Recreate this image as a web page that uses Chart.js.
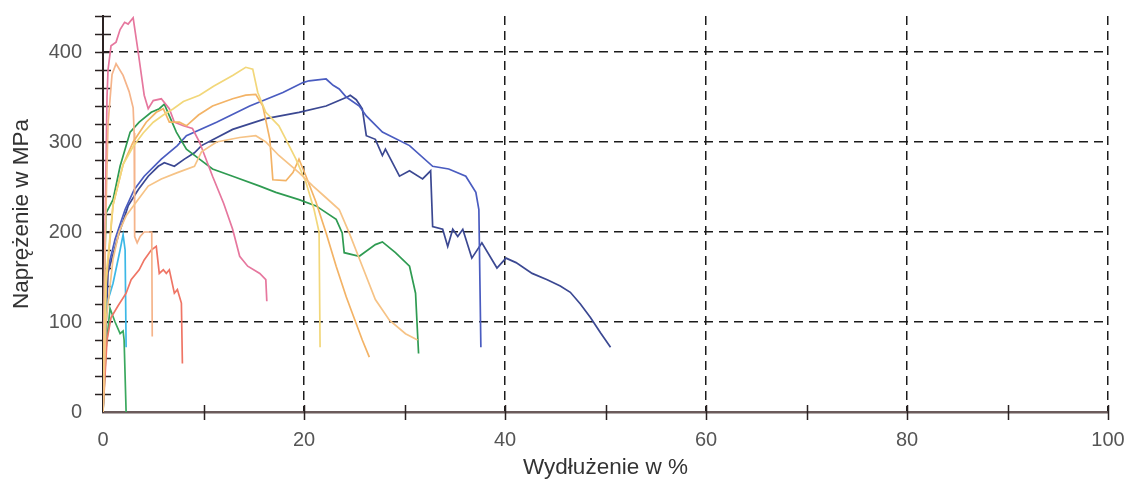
<!DOCTYPE html>
<html><head><meta charset="utf-8">
<script src="https://cdn.jsdelivr.net/npm/chart.js@4.4.1/dist/chart.umd.min.js"></script>
<style>html,body{margin:0;padding:0;background:#fff}#wrap{width:1135px;height:482px}</style>
</head><body><div id="wrap"><canvas id="c" width="1135" height="482"></canvas></div>
<script>
// Tick labels
const xTickLabels = [0, 20, 40, 60, 80, 100];
const yTickLabels = [0, 100, 200, 300, 400];
const xMinorTicks = [10, 20, 30, 40, 50, 60, 70, 80, 90, 100];
const yMinorTicks = [20, 40, 60, 80, 100, 120, 140, 160, 180, 200, 220, 240, 260, 280, 300, 320, 340, 360, 380, 400, 420, 440];

// Series (x = elongation %, y = stress MPa)
const pinkX = [0, 0.2, 0.4, 0.5, 0.8, 1.3, 1.7, 2.15, 2.5, 3.0, 3.5, 4.1, 4.5, 5.0, 5.8, 6.6, 7.1, 8.0, 8.9, 9.6, 10.9, 12.0, 12.9, 13.6, 14.4, 15.6, 16.2, 16.3];
const pinkY = [0, 200, 350, 380, 407, 411, 425, 433, 431, 438, 400, 352, 337, 346, 348, 337, 322, 318, 315, 300, 262, 232, 203, 173, 162, 154, 147, 123];

const peachX = [0, 0.2, 0.5, 0.9, 1.3, 2.0, 2.6, 3.0, 3.1, 3.15, 3.4, 3.7, 4.1, 4.7, 4.85, 4.9];
const peachY = [0, 180, 320, 375, 387, 374, 356, 338, 310, 195, 188, 195, 200, 200, 200, 84];

const yellowX = [0, 0.3, 1, 2, 3, 4, 5, 6, 7, 8, 9.6, 11, 12.9, 14.2, 14.9, 15.4, 16.2, 17.5, 18.2, 19.2, 20.2, 21.0, 21.5, 21.6];
const yellowY = [0, 150, 230, 275, 295, 310, 322, 330, 337, 345, 352, 362, 374, 383, 381, 355, 333, 318, 303, 281, 255, 225, 200, 72];

const orangeAX = [0, 0.3, 1, 2, 3, 4.3, 5.3, 6, 6.6, 7.6, 8.3, 9.5, 10.9, 12.9, 14.2, 15.2, 15.9, 16.6, 16.9, 18.2, 18.9, 19.5, 20.2, 21.2, 22.2, 23.2, 24.2, 24.8, 25.8, 26.5];
const orangeAY = [0, 140, 230, 275, 300, 322, 333, 337, 322, 322, 318, 330, 340, 348, 352, 353, 340, 303, 258, 257, 266, 281, 262, 233, 199, 162, 128, 110, 80, 61];

const orangeBX = [0, 0.3, 1, 1.6, 2.3, 3.5, 4.5, 5.8, 7.4, 9.1, 9.8, 11.3, 13.6, 15.2, 16.2, 17.5, 19.5, 20.9, 22.0, 23.5, 24.5, 25.8, 27.1, 28.5, 30.1, 31.3];
const orangeBY = [0, 100, 170, 200, 218, 236, 251, 259, 266, 273, 289, 300, 305, 307, 300, 285, 266, 251, 240, 225, 199, 162, 125, 102, 87, 80];

const blue1X = [0, 0.3, 1.2, 2.2, 3.1, 4.1, 5.8, 7.4, 8.3, 11.3, 14.6, 17.9, 19.9, 20.5, 22.2, 22.9, 23.5, 24.2, 25.5, 26.2, 27.8, 30.5, 32.8, 34.4, 36.1, 37.1, 37.4, 37.6];
const blue1Y = [0, 151, 192, 225, 247, 262, 281, 296, 307, 322, 340, 355, 366, 368, 370, 363, 359, 350, 340, 329, 311, 296, 273, 270, 262, 244, 225, 72];

const blue2X = [0, 0.5, 1.5, 2.5, 3.5, 4.5, 5.5, 6.1, 7.1, 8.1, 9.1, 9.8, 12.9, 16.2, 19.5, 22.2, 24.3, 24.6, 25.2, 25.8, 26.2, 27.1, 27.8, 28.1, 29.5, 30.5, 31.8, 32.6, 32.8, 33.8, 34.3, 34.8, 35.3, 35.8, 36.7, 37.7, 39.2, 40.1, 41.1, 42.7, 44.2, 45.5, 46.5, 47.5, 48.5, 49.5, 50.5];
const blue2Y = [0, 155, 195, 229, 247, 262, 273, 277, 273, 281, 288, 296, 314, 326, 333, 340, 350, 352, 347, 337, 307, 303, 285, 292, 262, 268, 259, 268, 206, 203, 184, 203, 195, 203, 171, 188, 160, 171, 166, 154, 147, 140, 133, 120, 105, 88, 72];

const greenX = [0, 0.15, 0.3, 1.0, 1.7, 2.7, 3.6, 4.8, 5.6, 6.1, 7.3, 8.3, 9.6, 10.9, 12.9, 15.6, 17.2, 19.5, 21.2, 23.2, 23.8, 24.0, 25.5, 27.1, 27.8, 29.1, 30.5, 31.1, 31.3, 31.4];
const greenY = [0, 150, 221, 236, 273, 311, 322, 333, 337, 342, 311, 292, 281, 270, 262, 251, 244, 236, 229, 214, 199, 177, 173, 186, 189, 177, 162, 132, 87, 65];

const green2X = [0, 0.3, 0.7, 1.2, 1.7, 2.0, 2.1, 2.3];
const green2Y = [0, 70, 115, 100, 87, 90, 80, 0];

const cyanX = [0, 0.15, 0.3, 1.0, 1.7, 2.0, 2.2, 2.3];
const cyanY = [0, 70, 117, 143, 180, 197, 180, 72];

const redX = [0, 0.4, 0.8, 1.5, 2.3, 2.8, 3.6, 4.1, 4.8, 5.3, 5.6, 6.0, 6.3, 6.6, 7.1, 7.4, 7.8, 7.9];
const redY = [0, 80, 105, 118, 132, 147, 158, 169, 180, 184, 154, 158, 154, 158, 132, 136, 121, 54];

function pts(xs, ys) { return xs.map((x, i) => ({x: x, y: ys[i]})); }
function ds(label, xs, ys, color) {
  return {label: label, data: pts(xs, ys), borderColor: color, backgroundColor: color,
          borderWidth: 1.7, pointRadius: 0, tension: 0, fill: false};
}

const FONT = "'Liberation Sans', Arial, Helvetica, sans-serif";

const crossTicks = {
  id: 'crossTicks',
  beforeDatasetsDraw(chart) {
    const {ctx, scales: {x, y}} = chart;
    ctx.save();
    ctx.lineWidth = 1.5;
    ctx.strokeStyle = '#2a2222';
    ctx.beginPath();
    const ax = x.getPixelForValue(0);
    yMinorTicks.forEach(v => {
      const py = Math.round(y.getPixelForValue(v)) + 0.5;
      ctx.moveTo(ax - 8, py); ctx.lineTo(ax + 8, py);
    });
    const ay = y.getPixelForValue(0);
    xMinorTicks.forEach(v => {
      const px = Math.round(x.getPixelForValue(v)) + 0.5;
      ctx.moveTo(px, ay - 7); ctx.lineTo(px, ay + 8);
    });
    ctx.stroke();
    ctx.restore();
  }
};

new Chart(document.getElementById('c'), {
  type: 'line',
  data: {
    datasets: [
      ds('B', orangeBX, orangeBY, '#f6c386'),
      ds('Y', yellowX, yellowY, '#f2d77a'),
      ds('A', orangeAX, orangeAY, '#f3b366'),
      ds('C', peachX, peachY, '#f5b48a'),
      ds('P', pinkX, pinkY, '#e6779e'),
      ds('R', redX, redY, '#ef7565'),
      ds('Cy', cyanX, cyanY, '#3cb8e6'),
      ds('G2', green2X, green2Y, '#3aa85e'),
      ds('G', greenX, greenY, '#2f9b52'),
      ds('B1', blue1X, blue1Y, '#4a5cc0'),
      ds('B2', blue2X, blue2Y, '#3b4892')
    ]
  },
  options: {
    responsive: false,
    devicePixelRatio: 1,
    animation: false,
    layout: {padding: {top: 16, right: 27, left: 0, bottom: 0}},
    plugins: {legend: {display: false}, tooltip: {enabled: false}},
    scales: {
      x: {
        type: 'linear', min: 0, max: 100,
        afterFit: s => { s.height = 70; s.paddingLeft = 0; s.paddingRight = 0; },
        ticks: {stepSize: 10, autoSkip: false, maxRotation: 0, padding: 16, color: '#555',
                font: {family: FONT, size: 20},
                callback: v => xTickLabels.includes(v) ? String(v) : ''},
        grid: {drawTicks: false, lineWidth: 1.5,
               color: c => (c.tick && c.tick.value > 0 && xTickLabels.includes(c.tick.value)) ? '#1c1c1c' : 'rgba(0,0,0,0)'},
        border: {display: true, color: '#6b5b5b', width: 2.5, dash: [9, 6]},
        title: {display: true, text: 'Wydłużenie w %', color: '#333', font: {family: FONT, size: 22.5}, padding: {top: 0, bottom: 1}}
      },
      y: {
        type: 'linear', min: 0, max: 440,
        afterFit: s => { s.width = 103; s.paddingTop = 0; s.paddingBottom = 0; },
        ticks: {stepSize: 20, autoSkip: false, padding: 21, color: '#555',
                font: {family: FONT, size: 20},
                callback: v => yTickLabels.includes(v) ? String(v) : ''},
        grid: {drawTicks: false, lineWidth: 1.5,
               color: c => (c.tick && c.tick.value > 0 && yTickLabels.includes(c.tick.value)) ? '#1c1c1c' : 'rgba(0,0,0,0)'},
        border: {display: true, color: '#2b2222', width: 2, dash: [9, 6]},
        title: {display: true, text: 'Naprężenie w MPa', color: '#333', font: {family: FONT, size: 22.5}, padding: {top: 8, bottom: 0}}
      }
    }
  },
  plugins: [crossTicks]
});
</script>
</body></html>
